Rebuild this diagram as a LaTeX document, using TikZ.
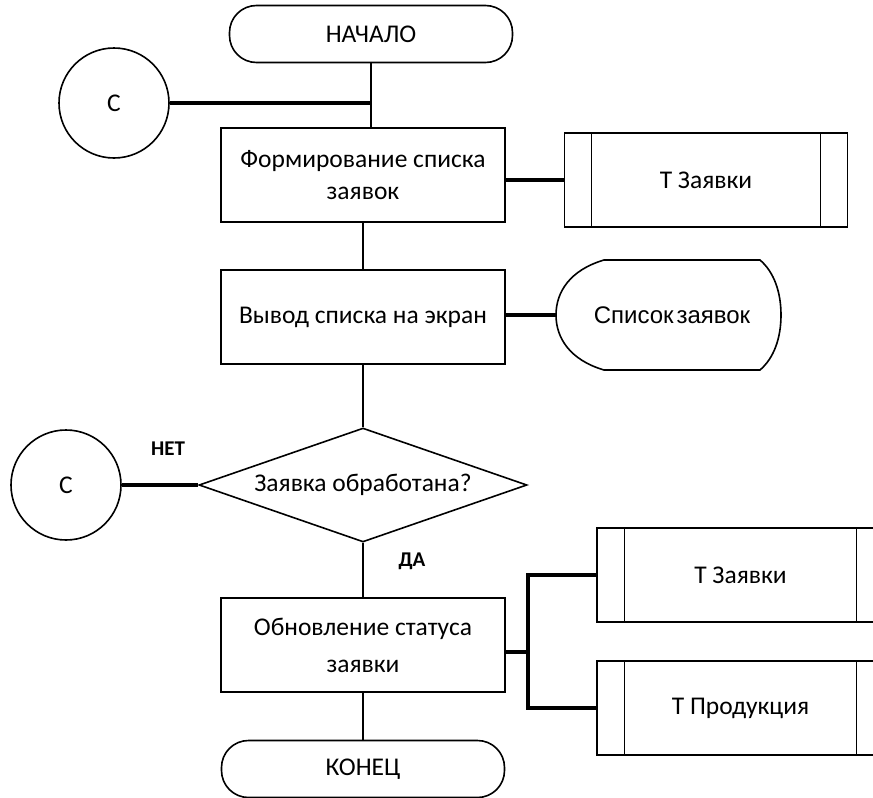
\documentclass[tikz,border=0pt]{standalone}
\usepackage{fontspec}
\setmainfont{Carlito}
\newfontfamily\dispfont{Liberation Sans}
\usetikzlibrary{shapes.geometric,calc}
\begin{document}
\begin{tikzpicture}[x=1pt,y=-1pt,
  every node/.style={font=\fontsize{25.5}{32}\selectfont, inner sep=0pt},
  outline/.style={draw=black, line width=1.6pt},
  proc/.style={outline, rectangle, minimum width=284pt, minimum height=94pt, align=center},
  term/.style={outline, rectangle, rounded corners=27pt, minimum width=283pt, minimum height=57pt},
  joint/.style={outline, circle, minimum size=110pt},
  storebox/.style={outline, rectangle, minimum width=283pt, minimum height=94pt},
  decide/.style={outline, diamond, aspect=2.88, minimum width=328pt, minimum height=114pt},
  link/.style={line width=1.6pt},
  rule/.style={line width=0.9pt},
  feed/.style={line width=3.2pt},
  answer/.style={font=\fontsize{21}{24}\selectfont\bfseries}]

\useasboundingbox (0,0) rectangle (873,798);

% main column
\node[term] (start) at (371,34) {НАЧАЛО};
\node[joint] (c1) at (114,103) {C};
\node[proc] (form) at (363,175) {Формирование списка\\заявок};
\node[proc] (show) at (363,317) {Вывод списка на экран};
\node[decide] (ask) at (363,485) {Заявка обработана?};
\node[joint] (c2) at (66,485) {C};
\node[proc, font=\fontsize{25.5}{37}\selectfont] (upd) at (363,645) {Обновление статуса\\заявки};
\node[term] (stop) at (363,769) {КОНЕЦ};

% data stores
\node[storebox] (t1) at (706,180) {Т Заявки};
\node[storebox, minimum width=287pt] (t2) at (740.5,575) {Т Заявки};
\node[storebox, minimum width=287pt] (t3) at (740.5,708) {Т Продукция};
\foreach \t in {t1, t2, t3}{
  \draw[rule] ($(\t.north west)+(28,0)$) -- ($(\t.south west)+(28,0)$);
  \draw[rule] ($(\t.north east)+(-28,0)$) -- ($(\t.south east)+(-28,0)$);
}

% display output: curved left side, chamfered right side
\node[minimum width=232pt, minimum height=110pt, font=\dispfont\fontsize{24}{28}\selectfont] (disp) at (672,315) {Список\hspace{0.12em}заявок};
\draw[outline] (604,260) -- (760,260)
  .. controls (774,272) and (781,292) .. (781,315)
  .. controls (781,338) and (774,358) .. (760,370)
  -- (604,370)
  .. controls (570,360) and (556,338) .. (556,315)
  .. controls (556,292) and (570,270) .. (604,260) -- cycle;

% flow lines
\coordinate (m1) at (start.south |- c1.east);
\draw[link] (start.south) -- (start.south |- form.north);
\draw[feed] (c1.east) -- (m1);
\draw[link] (form.south) -- (show.north);
\draw[link] (show.south) -- (ask.north);
\draw[link] (ask.south) -- (upd.north);
\draw[link] (upd.south) -- (stop.north);
\draw[feed] (ask.west) -- (c2.east);

% data links
\draw[feed] (t1.west -| form.east) -- (t1.west);
\draw[feed] (disp.west -| show.east) -- (disp.west);
\coordinate (fork) at (528,652);
\draw[feed] (upd.east |- fork) -- (fork);
\draw[feed] (t2.west) -| (fork) |- (t3.west);

% branch labels
\node[answer] (no) at (168,449) {НЕТ};
\node[answer] (yes) at (412,561) {ДА};
\end{tikzpicture}
\end{document}
